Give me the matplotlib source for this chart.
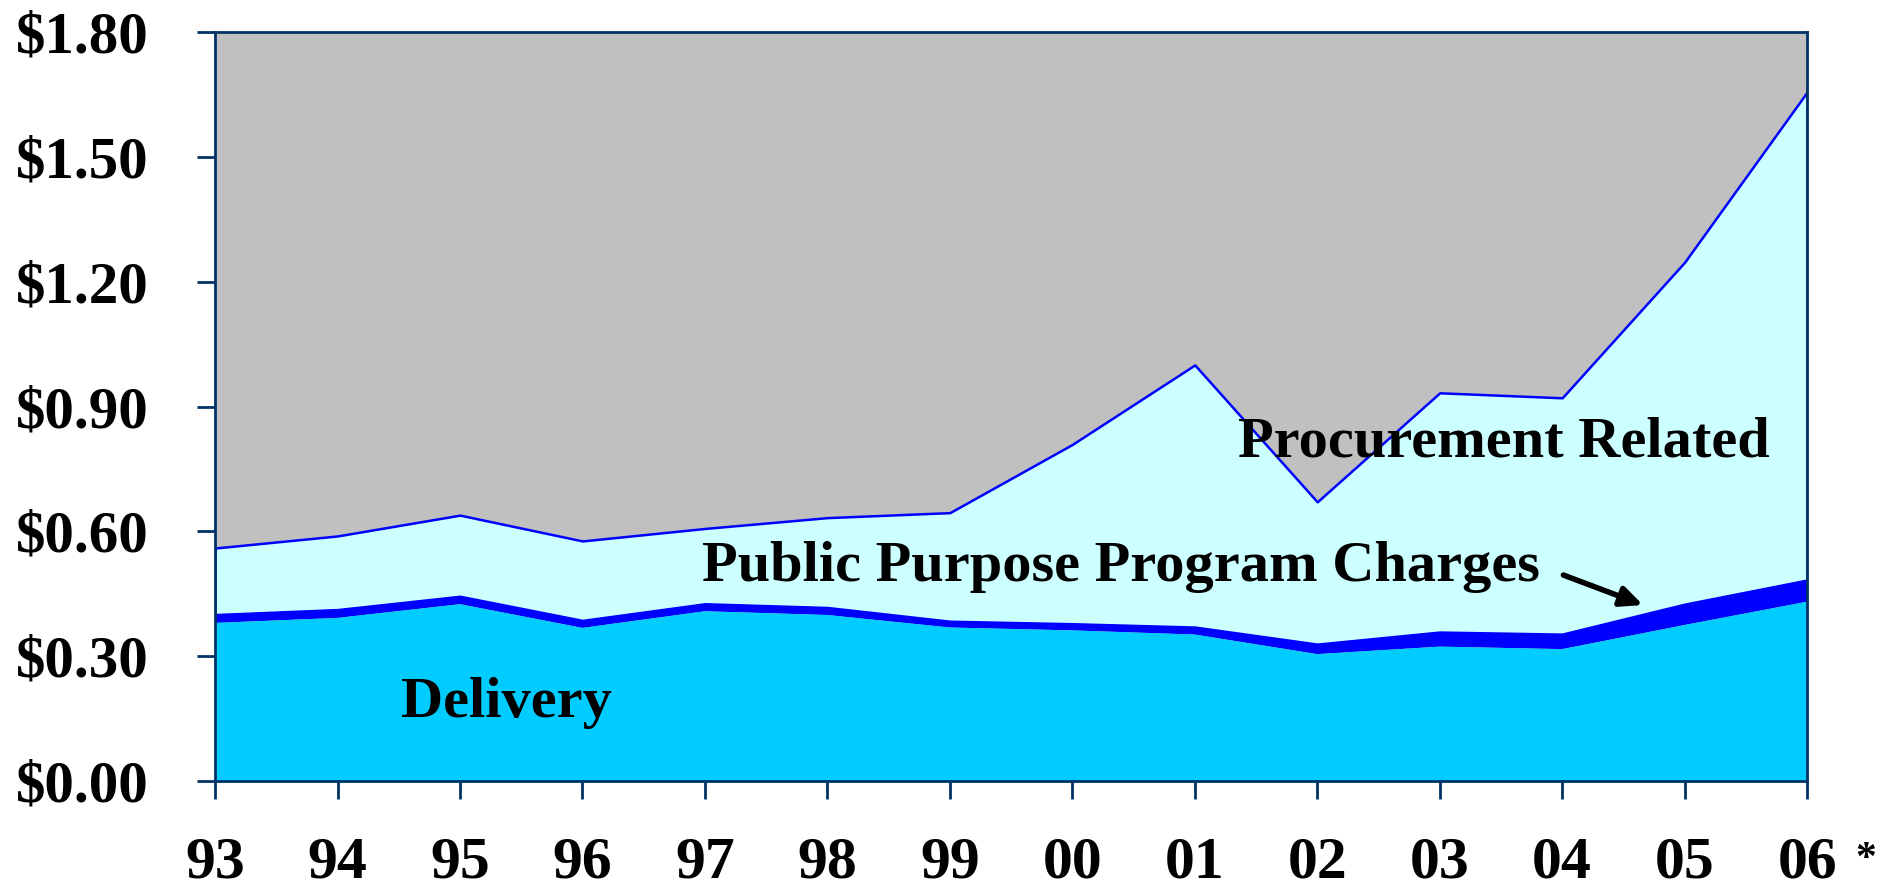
import matplotlib
matplotlib.use("Agg")
from matplotlib import pyplot as plt
import numpy as np

# --- data ($ per unit) ---
years = ['93', '94', '95', '96', '97', '98', '99', '00', '01', '02', '03', '04', '05', '06']
delivery = [0.380, 0.392, 0.425, 0.368, 0.408, 0.399, 0.369, 0.362, 0.352, 0.305, 0.323, 0.317, 0.375, 0.431]
public_purpose = [0.020, 0.020, 0.019, 0.018, 0.018, 0.018, 0.015, 0.016, 0.018, 0.024, 0.035, 0.036, 0.050, 0.052]
procurement = [0.160, 0.177, 0.195, 0.191, 0.181, 0.216, 0.261, 0.431, 0.630, 0.342, 0.575, 0.568, 0.822, 1.173]
y_ticks = [0.0, 0.3, 0.6, 0.9, 1.2, 1.5, 1.8]

plt.rcParams['font.family'] = ['Liberation Serif', 'DejaVu Serif']
plt.rcParams['font.weight'] = 'bold'

navy = '#003366'
x = np.arange(len(years))
d = np.array(delivery)
p = d + np.array(public_purpose)
t = p + np.array(procurement)

fig = plt.figure(figsize=(18.83, 8.92), dpi=100)
ax = fig.add_axes([0.1142, 0.1244, 0.8455, 0.8397])
ax.set_facecolor('#C0C0C0')

# stacked areas
ax.fill_between(x, p, t, facecolor='#CCFFFF', edgecolor='#0000FF', linewidth=1.8, zorder=1)
ax.fill_between(x, d, p, facecolor='#0000FF', edgecolor='none', zorder=1.5)
ax.fill_between(x, 0, d, facecolor='#00CCFF', edgecolor='none', zorder=1.6)

ax.set_xlim(0, len(years) - 1)
ax.set_ylim(0, 1.8)
ax.set_xticks(x)
ax.set_xticklabels(years)
ax.set_yticks(y_ticks)
ax.set_yticklabels([f'${v:.2f}' for v in y_ticks])

for s in ax.spines.values():
    s.set_color(navy)
    s.set_linewidth(2)
ax.tick_params(axis='both', direction='out', length=13, width=2, color=navy)
ax.tick_params(axis='y', labelsize=42.5, pad=35)
ax.tick_params(axis='x', labelsize=43, pad=27)
for lab in ax.get_xticklabels() + ax.get_yticklabels():
    lab.set_fontweight('bold')

# labels inside the chart
ax.text(2.376, 0.154, 'Delivery', fontsize=42, fontweight='bold', ha='center', va='baseline')
ax.text(3.977, 0.481, 'Public Purpose Program Charges', fontsize=42, fontweight='bold',
        ha='left', va='baseline')
ax.text(8.353, 0.779, 'Procurement Related', fontsize=42, fontweight='bold', ha='left', va='baseline')
ax.annotate('', xy=(11.66, 0.423), xytext=(11.01, 0.495),
            arrowprops=dict(arrowstyle='-|>,head_length=1.3,head_width=0.6', color='black', lw=4,
                            shrinkA=0, shrinkB=0))

fig.text(1866 / 1883, 1 - 870 / 892, '*', fontsize=30, fontweight='bold', ha='center', va='baseline')

fig.savefig('out.png', dpi=100)
